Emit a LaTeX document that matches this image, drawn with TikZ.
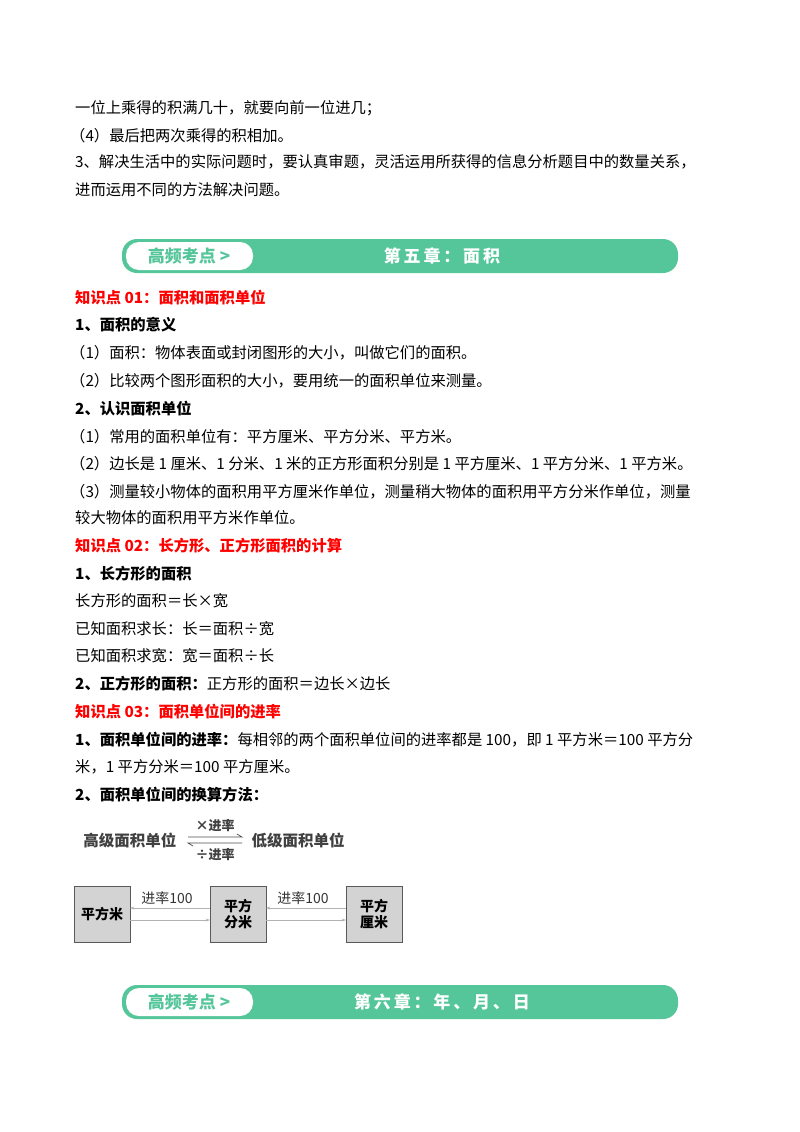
\documentclass[tikz,border=0pt]{standalone}
\usepackage{fontspec}
\setmainfont{Noto Sans CJK SC}
\usetikzlibrary{arrows.meta}
\definecolor{bgreen}{HTML}{55C59A}
\definecolor{kred}{HTML}{FF0000}
\definecolor{boxg}{HTML}{D3D3D3}
\begin{document}
\begin{tikzpicture}[x=1pt,y=-1pt,
  txt/.style={anchor=west,inner sep=0pt,font=\fontsize{15.3}{17}\selectfont},
  hd/.style={txt,font=\fontsize{15.3}{17}\selectfont\bfseries},
  red/.style={hd,text=kred},
  unitbox/.style={draw=gray!70!black,fill=boxg,minimum width=56,minimum height=56,inner sep=1pt,align=center,font=\fontsize{14}{16}\selectfont\bfseries},
  conn/.style={draw=gray!60,line width=0.6pt,-{Stealth[length=4pt]}},
  ftx/.style={font=\fontsize{15.5}{17}\selectfont\bfseries,text=black!75},
  chap/.style={font=\fontsize{17}{19}\selectfont\bfseries,text=white},
  tag/.style={font=\fontsize{17}{19}\selectfont\bfseries,text=bgreen}]
\useasboundingbox (0,0) rectangle (800,1132);
\node[txt] (l1) at (75,108) {一位上乘得的积满几十，就要向前一位进几；};
\node[txt] (l2) at (70,136) {（4）最后把两次乘得的积相加。};
\node[txt] (l3) at (75,162) {3、解决生活中的实际问题时，要认真审题，灵活运用所获得的信息分析题目中的数量关系，};
\node[txt] (l4) at (75,190) {进而运用不同的方法解决问题。};
% banner 1
\fill[bgreen,rounded corners=15] (122,239) rectangle (678,273);
\fill[white,rounded corners=13] (126,242) rectangle (253,270);
\node[tag] (b1a) at (189,256) {高频考点 >};
\node[chap] (b1b) at (442,256) {第\,五\,章\,：\,面\,积};
\node[red] (k1) at (75,298) {知识点 01：面积和面积单位};
\node[hd] (h1) at (75,325) {1、面积的意义};
\node[txt] (t1) at (70,353) {（1）面积：物体表面或封闭图形的大小，叫做它们的面积。};
\node[txt] (t2) at (70,381) {（2）比较两个图形面积的大小，要用统一的面积单位来测量。};
\node[hd] (h2) at (75,409) {2、认识面积单位};
\node[txt] (t3) at (70,437) {（1）常用的面积单位有：平方厘米、平方分米、平方米。};
\node[txt] (t4) at (70,464) {（2）边长是 1 厘米、1 分米、1 米的正方形面积分别是 1 平方厘米、1 平方分米、1 平方米。};
\node[txt] (t5) at (70,492) {（3）测量较小物体的面积用平方厘米作单位，测量稍大物体的面积用平方分米作单位，测量};
\node[txt] (t6) at (75,518) {较大物体的面积用平方米作单位。};
\node[red] (k2) at (75,546) {知识点 02：长方形、正方形面积的计算};
\node[hd] (h3) at (75,574) {1、长方形的面积};
\node[txt] (t7) at (75,601) {长方形的面积＝长×宽};
\node[txt] (t8) at (75,629) {已知面积求长：长＝面积÷宽};
\node[txt] (t9) at (75,656) {已知面积求宽：宽＝面积÷长};
\node[txt] (t10) at (75,684) {\textbf{2、正方形的面积：}正方形的面积＝边长×边长};
\node[red] (k3) at (75,712) {知识点 03：面积单位间的进率};
\node[txt] (t11) at (75,740) {\textbf{1、面积单位间的进率：}每相邻的两个面积单位间的进率都是 100，即 1 平方米＝100 平方分};
\node[txt] (t12) at (75,767) {米，1 平方分米＝100 平方厘米。};
\node[hd] (h4) at (75,795) {2、面积单位间的换算方法：};
% formula
\node[ftx,anchor=east] (hi) at (180,840) {高级面积单位};
\node[ftx,anchor=west] (lo) at (248,840) {低级面积单位};
\coordinate (fa) at (188,837); \coordinate (fb) at (242,837);
\coordinate (fc) at (188,843); \coordinate (fd) at (242,843);
\draw[black!70,line width=0.7pt] (fa) -- (fb) -- ++(-5,-3);
\draw[black!70,line width=0.7pt] (fd) -- (fc) -- ++(5,3);
\node[font=\fontsize{13}{15}\selectfont\bfseries,text=black!75] (m1) at (215,826) {×进率};
\node[font=\fontsize{13}{15}\selectfont\bfseries,text=black!75] (m2) at (215,855) {÷进率};
% unit boxes
\node[unitbox] (u1) at (102,914) {平方米};
\node[unitbox] (u2) at (238,914) {平方\\分米};
\node[unitbox] (u3) at (374,914) {平方\\厘米};
\draw[conn] ([yshift=-6]u1.east) -- ([yshift=-6]u2.west);
\draw[conn] ([yshift=6]u2.west) -- ([yshift=6]u1.east);
\draw[conn] ([yshift=-6]u2.east) -- ([yshift=-6]u3.west);
\draw[conn] ([yshift=6]u3.west) -- ([yshift=6]u2.east);
\node[font=\fontsize{14}{15}\selectfont,text=black!80] (r1) at (167,898) {进率100};
\node[font=\fontsize{14}{15}\selectfont,text=black!80] (r2) at (303,898) {进率100};
% banner 2
\fill[bgreen,rounded corners=15] (122,985) rectangle (678,1019);
\fill[white,rounded corners=13] (126,988) rectangle (253,1016);
\node[tag] (b2a) at (189,1002) {高频考点 >};
\node[chap] (b2b) at (442,1002) {第\,六\,章\,：\,年\,、\,月\,、\,日};
\end{tikzpicture}
\end{document}
